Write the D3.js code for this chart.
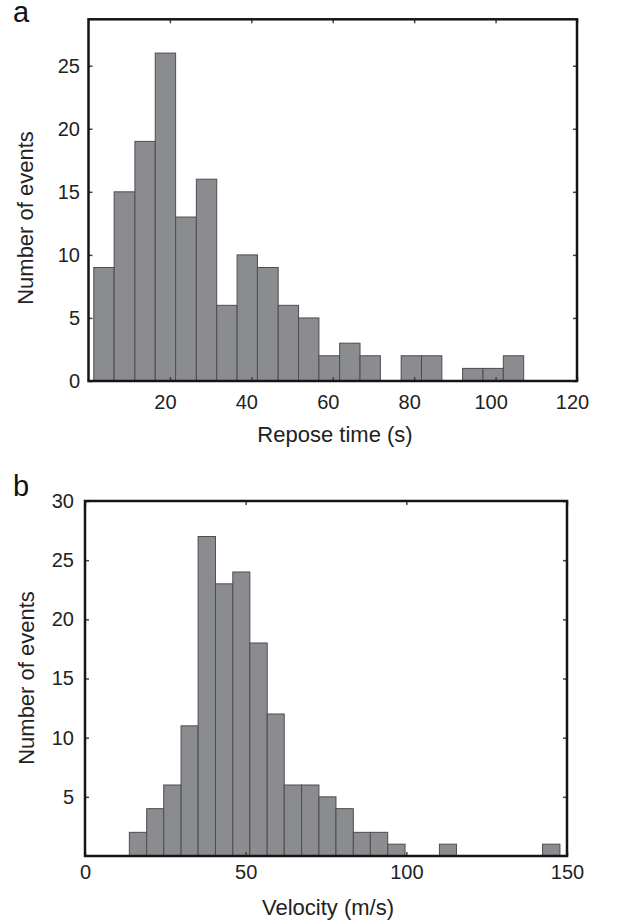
<!DOCTYPE html>
<html>
<head>
<meta charset="utf-8">
<script src="https://cdn.jsdelivr.net/npm/d3@7"></script>
<style>
  body { margin: 0; background: #fff; }
  svg { display: block; font-family: "Liberation Sans", Arial, sans-serif; }
  .tick text { fill: #222; }
</style>
</head>
<body>
<script>
// Panel a: repose time histogram (bin edges)
const reposeEdges = [1.3, 6.3, 11.4, 16.4, 21.4, 26.5, 31.5, 36.5, 41.5, 46.6, 51.6,
  56.6, 61.7, 66.7, 71.7, 76.8, 81.8, 86.8, 91.9, 96.9, 101.9, 106.9];
const reposeCounts = [9, 15, 19, 26, 13, 16, 6, 10, 9, 6, 5, 2, 3, 2, 0, 2, 2, 0, 1, 1, 2];
const reposeTicksX = [20, 40, 60, 80, 100, 120];
const reposeTicksY = [0, 5, 10, 15, 20, 25];

// Panel b: velocity histogram
const velocityEdges = [13.8, 19.2, 24.5, 29.9, 35.2, 40.6, 46.0, 51.3, 56.7, 62.0, 67.4,
  72.8, 78.1, 83.5, 88.8, 94.2, 99.6, 104.9, 110.3, 115.6, 121.0, 126.4, 131.7, 137.1,
  142.4, 147.8];
const velocityCounts = [2, 4, 6, 11, 27, 23, 24, 18, 12, 6, 6, 5, 4, 2, 2, 1, 0, 0, 1,
  0, 0, 0, 0, 0, 1];
const velocityTicksX = [0, 50, 100, 150];
const velocityTicksY = [5, 10, 15, 20, 25, 30];

const svg = d3.select("body").append("svg")
  .attr("width", 617)
  .attr("height", 924);

function drawPanel(p) {
  const x = d3.scaleLinear().domain(p.xDomain).range([p.left, p.right]);
  const y = d3.scaleLinear().domain(p.yDomain).range([p.bottom, p.top]);
  const g = svg.append("g");

  // bars
  const bins = p.counts.map((c, i) => ({ x0: p.edges[i], x1: p.edges[i + 1], n: c }))
    .filter(d => d.n > 0);
  g.selectAll("rect.bar")
    .data(bins)
    .enter().append("rect")
    .attr("class", "bar")
    .attr("x", d => x(d.x0))
    .attr("width", d => x(d.x1) - x(d.x0))
    .attr("y", d => y(d.n))
    .attr("height", d => y(0) - y(d.n))
    .style("fill", "#8b8c90")
    .style("stroke", "#4d4d4f")
    .style("stroke-width", 1);

  // axes with inward ticks
  const bottom = g.append("g")
    .attr("transform", `translate(0,${p.bottom})`)
    .call(d3.axisBottom(x).tickValues(p.ticksX).tickSizeInner(-4).tickSizeOuter(0)
      .tickPadding(p.padX));
  bottom.selectAll("text").attr("dx", p.dxX);

  const left = g.append("g")
    .attr("transform", `translate(${p.left},0)`)
    .call(d3.axisLeft(y).tickValues(p.ticksY).tickSizeInner(-4).tickSizeOuter(0)
      .tickPadding(p.padY));

  const top = g.append("g")
    .attr("transform", `translate(0,${p.top})`)
    .call(d3.axisTop(x).tickValues(p.ticksX).tickSizeInner(-4).tickSizeOuter(0)
      .tickFormat(""));

  const right = g.append("g")
    .attr("transform", `translate(${p.right},0)`)
    .call(d3.axisRight(y).tickValues(p.ticksY).tickSizeInner(-4).tickSizeOuter(0)
      .tickFormat(""));

  [bottom, left, top, right].forEach(a => {
    a.select(".domain").remove();
    a.selectAll("line").attr("stroke", "#444").attr("stroke-width", 1.5);
    a.selectAll("text").style("font-size", "20px")
      .style("font-family", "'Liberation Sans', Arial, sans-serif");
  });

  // frame
  g.append("rect")
    .attr("x", p.left)
    .attr("y", p.top)
    .attr("width", p.right - p.left)
    .attr("height", p.bottom - p.top)
    .style("fill", "none")
    .style("stroke", "#151515")
    .style("stroke-width", 2.5);

  // axis titles
  g.append("text")
    .attr("x", p.xTitleX)
    .attr("y", p.xTitleY)
    .attr("text-anchor", "middle")
    .style("font-size", "22px")
    .style("fill", "#222")
    .text(p.xTitle);

  g.append("text")
    .attr("transform", `translate(${p.yTitleX},${p.yTitleY}) rotate(-90)`)
    .attr("text-anchor", "middle")
    .style("font-size", "22px")
    .style("fill", "#222")
    .text("Number of events");

  // panel letter
  g.append("text")
    .attr("x", 13)
    .attr("y", p.letterY)
    .style("font-size", "29px")
    .style("fill", "#111")
    .text(p.letter);
}

drawPanel({
  edges: reposeEdges, counts: reposeCounts,
  ticksX: reposeTicksX, ticksY: reposeTicksY,
  xDomain: [0, 120], yDomain: [0, 28.68],
  left: 88.5, right: 577, top: 19.3, bottom: 381,
  padX: 14, padY: 8.5, dxX: -5,
  xTitle: "Repose time (s)", xTitleX: 335, xTitleY: 442,
  yTitleX: 33, yTitleY: 218,
  letter: "a", letterY: 22
});

drawPanel({
  edges: velocityEdges, counts: velocityCounts,
  ticksX: velocityTicksX, ticksY: velocityTicksY,
  xDomain: [0, 150], yDomain: [0, 30],
  left: 85, right: 567, top: 501, bottom: 856,
  padX: 9, padY: 11, dxX: 0,
  xTitle: "Velocity (m/s)", xTitleX: 328, xTitleY: 915,
  yTitleX: 33.5, yTitleY: 678,
  letter: "b", letterY: 496
});
</script>
</body>
</html>
